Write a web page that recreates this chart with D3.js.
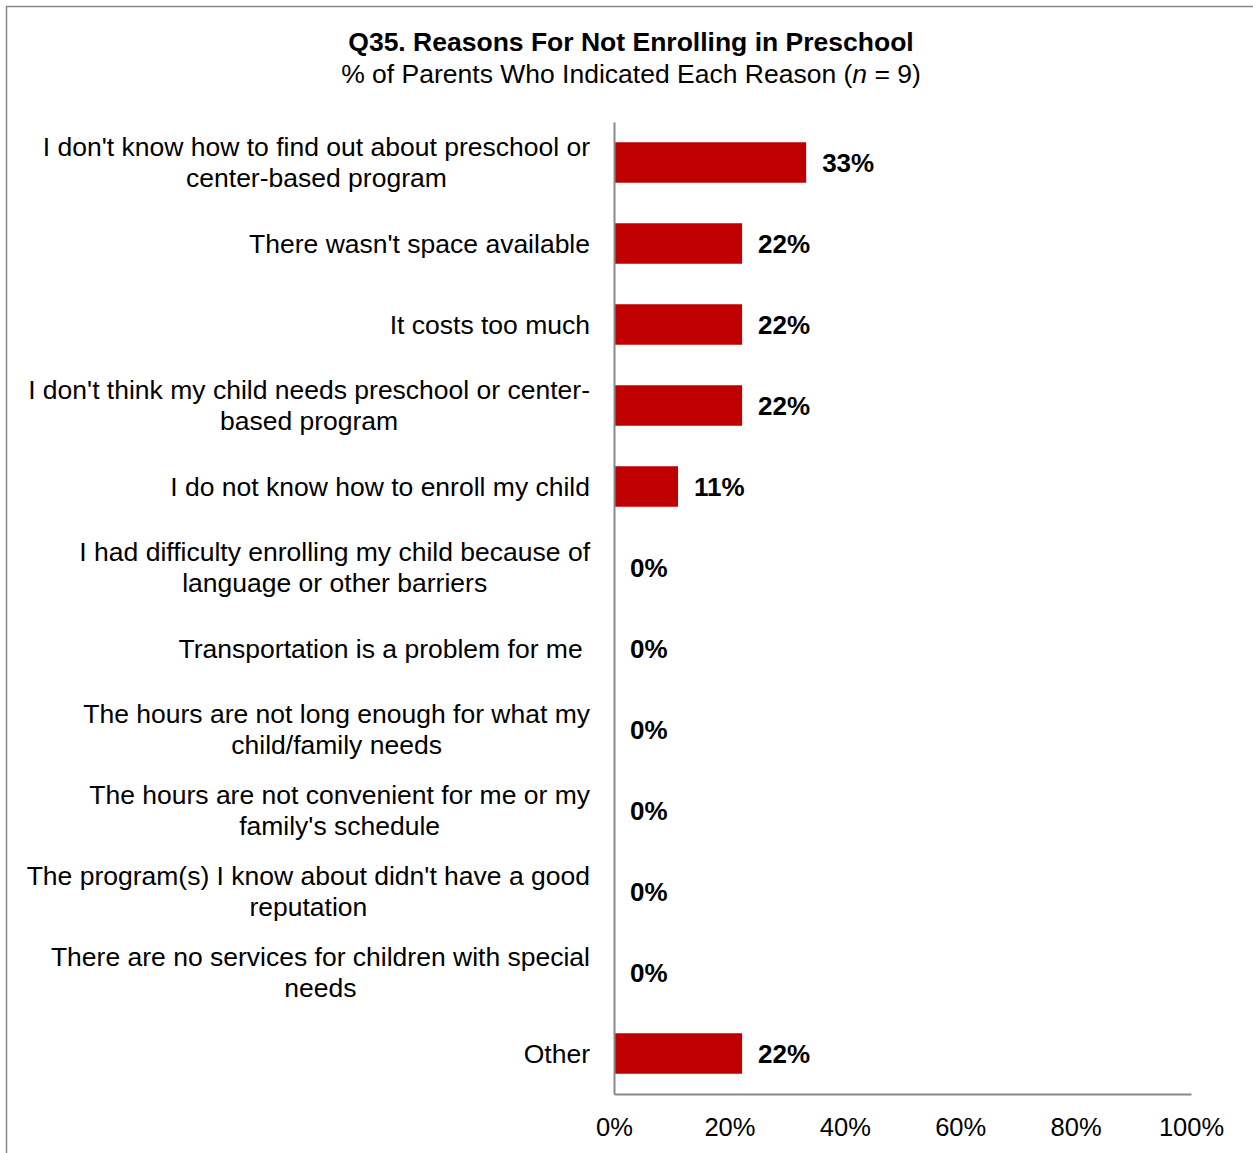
<!DOCTYPE html>
<html>
<head>
<meta charset="utf-8">
<script src="https://cdn.jsdelivr.net/npm/d3@7"></script>
<style>
  html, body { margin: 0; padding: 0; background: #fff; }
  svg { display: block; font-family: "Liberation Sans", Arial, sans-serif; }
</style>
</head>
<body>
<svg id="chart" width="1253" height="1153"></svg>
<script>
// Survey reasons (each entry's lines are drawn as a wrapped label)
const categories = [
  ["I don't know how to find out about preschool or", "center-based program"],
  ["There wasn't space available"],
  ["It costs too much"],
  ["I don't think my child needs preschool or center-", "based program"],
  ["I do not know how to enroll my child"],
  ["I had difficulty enrolling my child because of", "language or other barriers"],
  ["Transportation is a problem for me "],
  ["The hours are not long enough for what my", "child/family needs"],
  ["The hours are not convenient for me or my", "family's schedule"],
  ["The program(s) I know about didn't have a good", "reputation"],
  ["There are no services for children with special", "needs"],
  ["Other"]
];
const values = [33.3, 22.2, 22.2, 22.2, 11.1, 0, 0, 0, 0, 0, 0, 22.2];
const valueLabels = ["33%", "22%", "22%", "22%", "11%", "0%", "0%", "0%", "0%", "0%", "0%", "22%"];
const tickValues = [0, 20, 40, 60, 80, 100];

const svg = d3.select("#chart");
const axisColor = "#898989";
const barColor = "#C00000";
const fontSize = 26.5;

// outer frame
svg.append("rect")
  .attr("x", 6.5).attr("y", 6.5)
  .attr("width", 1260).attr("height", 1160)
  .attr("fill", "none").attr("stroke", axisColor).attr("stroke-width", 1.5);

// titles
svg.append("text")
  .attr("x", 631).attr("y", 51)
  .attr("text-anchor", "middle")
  .attr("font-size", fontSize).attr("font-weight", "bold").attr("fill", "#000")
  .text("Q35. Reasons For Not Enrolling in Preschool");

const sub = svg.append("text")
  .attr("x", 631).attr("y", 83)
  .attr("text-anchor", "middle")
  .attr("font-size", fontSize).attr("fill", "#000");
sub.append("tspan").text("% of Parents Who Indicated Each Reason (");
sub.append("tspan").attr("font-style", "italic").text("n");
sub.append("tspan").text(" = 9)");

const plotLeft = 614, plotRight = 1191, plotTop = 122, plotBottom = 1094;

const x = d3.scaleLinear().domain([0, 100]).range([plotLeft, plotRight]);
const y = d3.scaleBand()
  .domain(d3.range(categories.length))
  .range([plotTop, plotBottom])
  .paddingInner(0.5).paddingOuter(0.25);

// bars
svg.append("g").selectAll("rect")
  .data(values)
  .join("rect")
  .attr("x", x(0))
  .attr("y", (d, i) => y(i))
  .attr("width", d => x(d) - x(0))
  .attr("height", y.bandwidth())
  .attr("fill", barColor);

// value labels
svg.append("g").selectAll("text")
  .data(values)
  .join("text")
  .attr("x", d => x(d) + 16)
  .attr("y", (d, i) => y(i) + y.bandwidth() / 2)
  .attr("dy", "0.35em")
  .attr("font-size", 26).attr("font-weight", "bold").attr("fill", "#000")
  .text((d, i) => valueLabels[i]);

// category labels: block right-aligned, lines centred within the block
const labelRight = 590;
const lineHeight = 31;
const catG = svg.append("g");
categories.forEach((lines, i) => {
  const cy = y(i) + y.bandwidth() / 2;
  const texts = lines.map(l => catG.append("text")
    .attr("font-size", fontSize).attr("fill", "#000")
    .attr("text-anchor", "middle")
    .attr("dy", "0.35em")
    .attr("xml:space", "preserve")
    .style("white-space", "pre")
    .text(l));
  const widths = texts.map(t => t.node().getComputedTextLength());
  const blockW = d3.max(widths);
  const cx = labelRight - blockW / 2;
  const n = lines.length;
  texts.forEach((t, k) => {
    t.attr("x", cx).attr("y", cy + (k - (n - 1) / 2) * lineHeight);
  });
});

// axes
const xAxis = d3.axisBottom(x)
  .tickValues(tickValues)
  .tickSize(0)
  .tickPadding(24)
  .tickFormat(d => d + "%");

const gx = svg.append("g")
  .attr("transform", `translate(0,${plotBottom})`)
  .call(xAxis);
gx.select(".domain").attr("stroke", axisColor).attr("stroke-width", 2);
gx.selectAll("text").attr("font-size", 25.5).attr("fill", "#000")
  .attr("font-family", "Liberation Sans, Arial, sans-serif");

const yAxis = d3.axisLeft(y).tickSize(0).tickFormat("");
const gy = svg.append("g")
  .attr("transform", `translate(${plotLeft},0)`)
  .call(yAxis);
gy.select(".domain").attr("stroke", axisColor).attr("stroke-width", 2);
</script>
</body>
</html>
